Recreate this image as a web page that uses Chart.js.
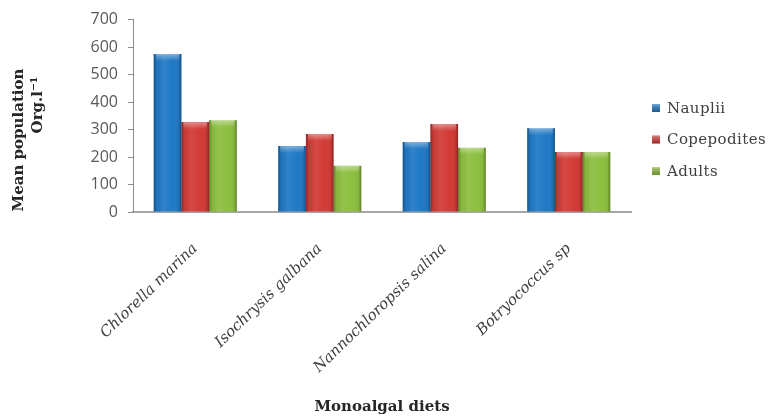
<!DOCTYPE html>
<html>
<head>
<meta charset="utf-8">
<script src="https://cdn.jsdelivr.net/npm/chart.js@4/dist/chart.umd.min.js"></script>
<style>
  html, body { margin: 0; padding: 0; background: #fff; }
  #wrap { width: 769px; height: 418px; }
</style>
</head>
<body>
<div id="wrap"><canvas id="c" width="769" height="418"></canvas></div>
<script>
// Mean population (Org. l-1) of each stage fed on four monoalgal diets
const diets = ['Chlorella marina', 'Isochrysis galbana', 'Nannochloropsis salina', 'Botryococcus sp'];
const nauplii = [575, 240, 255, 305];
const copepodites = [327, 284, 320, 218];
const adults = [334, 168, 234, 218];
const yTicks = [0, 100, 200, 300, 400, 500, 600, 700];

const stageColors = ['#2079c5', '#d23b36', '#8cbf3f'];
const serif = '"DejaVu Serif", "Liberation Serif", serif';

// Bevel-like shading over each bar, using the bar geometry computed by Chart.js
const barShading = {
  id: 'barShading',
  afterDatasetsDraw(chart) {
    const ctx = chart.ctx;
    ctx.save();
    chart.data.datasets.forEach((ds, i) => {
      chart.getDatasetMeta(i).data.forEach(bar => {
        const { x, y, base, width } = bar.getProps(['x', 'y', 'base', 'width'], true);
        const l = x - width / 2, h = base - y;
        const g = ctx.createLinearGradient(l, 0, l + width, 0);
        g.addColorStop(0, 'rgba(0,0,0,0.32)');
        g.addColorStop(0.1, 'rgba(0,0,0,0.06)');
        g.addColorStop(0.35, 'rgba(255,255,255,0.07)');
        g.addColorStop(0.7, 'rgba(255,255,255,0)');
        g.addColorStop(0.9, 'rgba(0,0,0,0.06)');
        g.addColorStop(1, 'rgba(0,0,0,0.34)');
        ctx.fillStyle = g;
        ctx.fillRect(l, y, width, h);
        const cap = ctx.createLinearGradient(0, y, 0, y + 7);
        cap.addColorStop(0, 'rgba(255,255,255,0.40)');
        cap.addColorStop(1, 'rgba(255,255,255,0)');
        ctx.fillStyle = cap;
        ctx.fillRect(l + 2, y, width - 4, 7);
      });
    });
    ctx.restore();
  }
};

// Legend at the right and the two-line y axis title
const sideText = {
  id: 'sideText',
  afterDraw(chart) {
    const ctx = chart.ctx;
    ctx.save();
    // legend
    ctx.font = '15px "DejaVu Serif"';
    ctx.letterSpacing = '0.4px';
    ctx.textBaseline = 'middle';
    ctx.textAlign = 'left';
    chart.data.datasets.forEach((ds, i) => {
      const cy = 108 + i * 31.5;
      const bx = 652, s = 8;
      ctx.fillStyle = ds.backgroundColor;
      ctx.fillRect(bx, cy - s / 2, s, s);
      const g = ctx.createLinearGradient(bx, cy - s / 2, bx, cy + s / 2);
      g.addColorStop(0, 'rgba(255,255,255,0.35)');
      g.addColorStop(1, 'rgba(0,0,0,0.25)');
      ctx.fillStyle = g;
      ctx.fillRect(bx, cy - s / 2, s, s);
      ctx.fillStyle = '#404040';
      ctx.fillText(ds.label, 667, cy + 1);
    });
    ctx.letterSpacing = '0px';
    // y axis title
    ctx.fillStyle = '#262626';
    ctx.font = 'bold 15px ' + serif;
    ctx.textAlign = 'center';
    ctx.save();
    ctx.translate(19, 140);
    ctx.rotate(-Math.PI / 2);
    ctx.fillText('Mean population', 0, 0);
    ctx.restore();
    ctx.save();
    ctx.translate(38, 105);
    ctx.rotate(-Math.PI / 2);
    ctx.fillText('Org.l\u207B\u00B9', 0, 0);
    ctx.restore();
    ctx.restore();
  }
};

new Chart(document.getElementById('c'), {
  type: 'bar',
  data: {
    labels: diets,
    datasets: [
      { label: 'Nauplii', data: nauplii, backgroundColor: stageColors[0] },
      { label: 'Copepodites', data: copepodites, backgroundColor: stageColors[1] },
      { label: 'Adults', data: adults, backgroundColor: stageColors[2] }
    ]
  },
  options: {
    responsive: false,
    devicePixelRatio: 1,
    animation: false,
    layout: { padding: { top: 15, right: 138, left: 0, bottom: 0 } },
    datasets: { bar: { categoryPercentage: 0.667, barPercentage: 1, borderWidth: 0 } },
    plugins: { legend: { display: false }, tooltip: { enabled: false } },
    scales: {
      x: {
        grid: { display: false },
        border: { display: true, color: '#a6a6a6', width: 2 },
        ticks: {
          autoSkip: false,
          minRotation: 44,
          maxRotation: 44,
          padding: 20,
          color: '#404040',
          font: { family: serif, style: 'italic', size: 15 }
        },
        title: {
          display: true,
          text: 'Monoalgal diets',
          color: '#262626',
          font: { family: serif, weight: 'bold', size: 15 },
          padding: { top: 0, bottom: 2 }
        },
        afterFit(scale) { scale.height = 206; }
      },
      y: {
        min: 0,
        max: 700,
        afterBuildTicks(scale) { scale.ticks = yTicks.map(v => ({ value: v })); },
        grid: { drawOnChartArea: false, drawTicks: true, tickLength: 5, color: '#8c8c8c' },
        border: { display: true, color: '#8c8c8c', width: 1 },
        ticks: {
          padding: 10,
          color: '#595959',
          font: { family: '"Open Sans", sans-serif', size: 16 }
        },
        afterFit(scale) { scale.width = 133; }
      }
    }
  },
  plugins: [barShading, sideText]
});
</script>
</body>
</html>
